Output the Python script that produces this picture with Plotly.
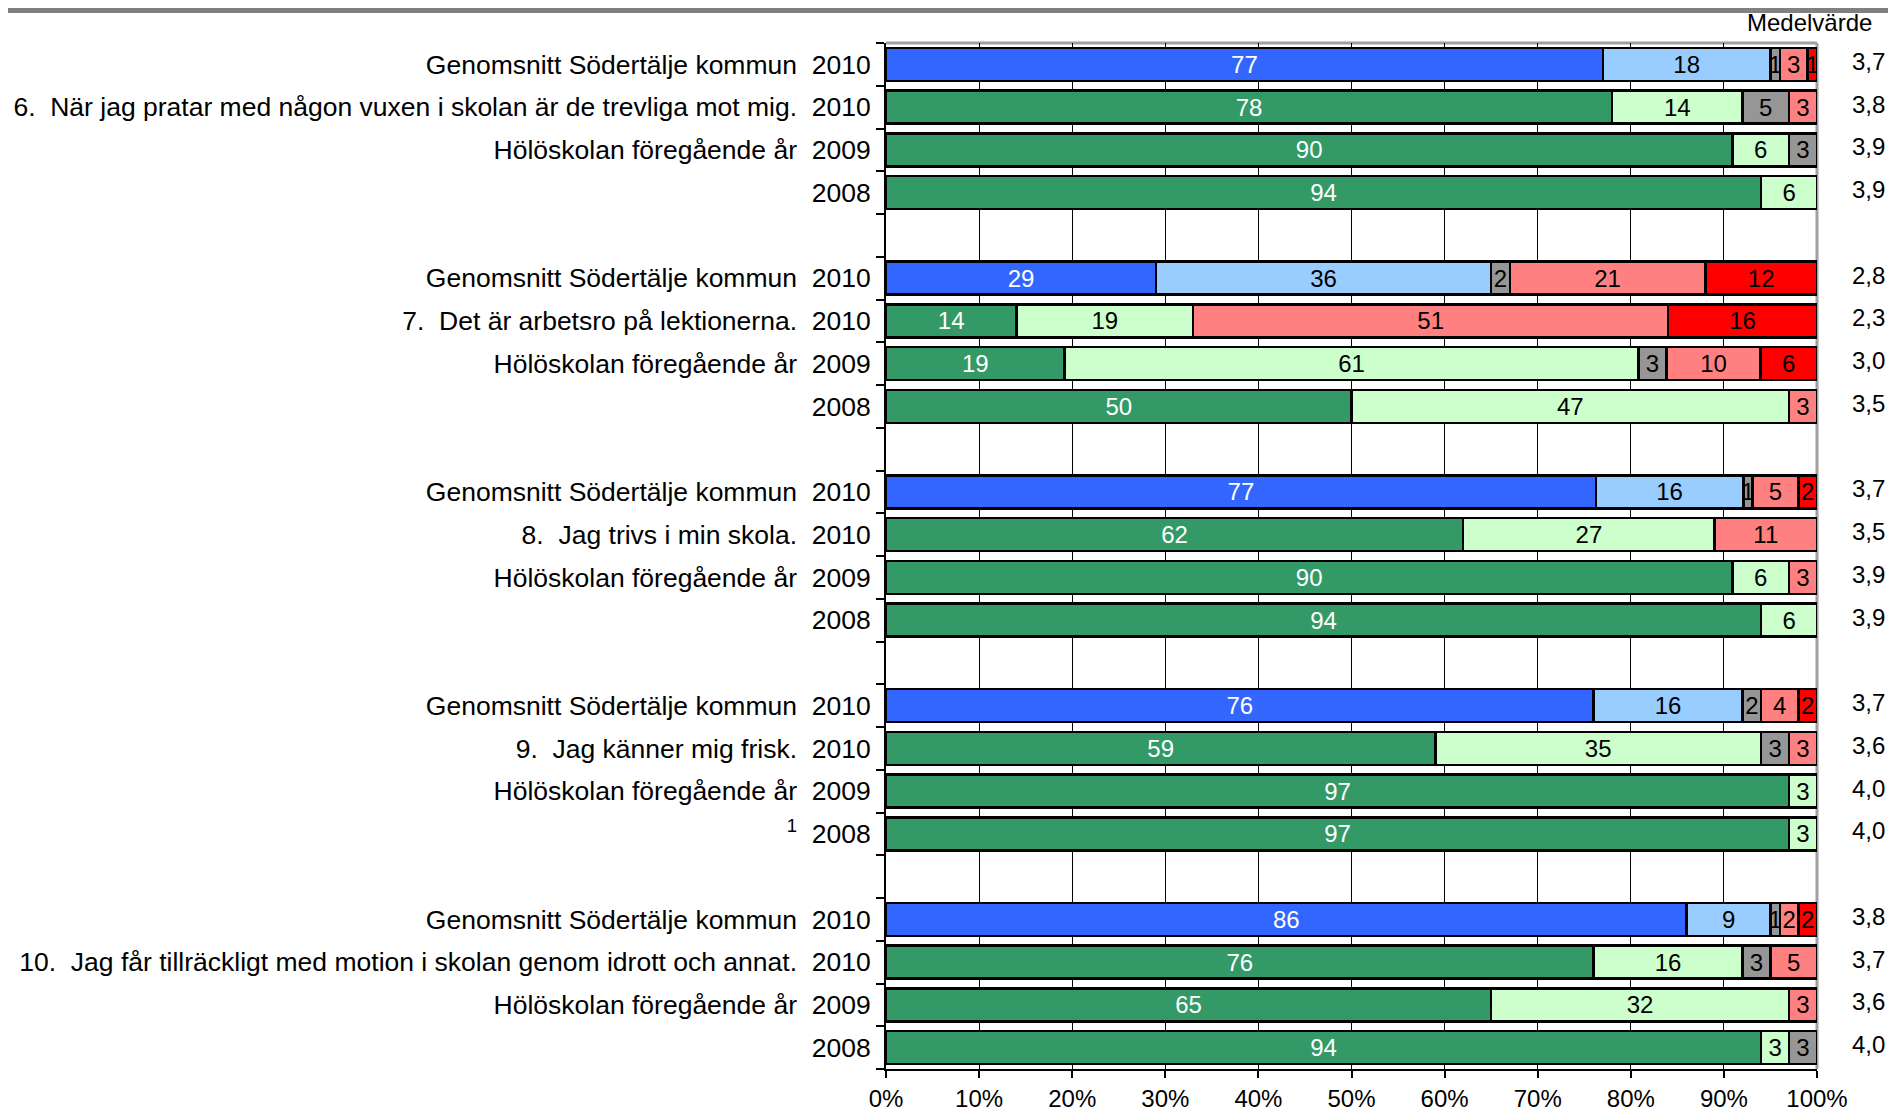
import plotly.graph_objects as go

# ---------------- data ----------------
questions = [
    "6.  När jag pratar med någon vuxen i skolan är de trevliga mot mig.",
    "7.  Det är arbetsro på lektionerna.",
    "8.  Jag trivs i min skola.",
    "9.  Jag känner mig frisk.",
    "10.  Jag får tillräckligt med motion i skolan genom idrott och annat.",
]
row_prefix = ["Genomsnitt Södertälje kommun", None, "Hölöskolan föregående år", ""]
years = ["2010", "2010", "2009", "2008"]
footnote_row = (3, 3)  # group, row with superscript 1

stammer_helt = [77, 78, 90, 94, 29, 14, 19, 50, 77, 62, 90, 94, 76, 59, 97, 97, 86, 76, 65, 94]
stammer_ganska = [18, 14, 6, 6, 36, 19, 61, 47, 16, 27, 6, 6, 16, 35, 3, 3, 9, 16, 32, 3]
vet_ej = [1, 5, 3, 0, 2, 0, 3, 0, 1, 0, 0, 0, 2, 3, 0, 0, 1, 3, 0, 3]
stammer_inte_sa = [3, 3, 0, 0, 21, 51, 10, 3, 5, 11, 3, 0, 4, 3, 0, 0, 2, 5, 3, 0]
stammer_inte_alls = [1, 0, 0, 0, 12, 16, 6, 0, 2, 0, 0, 0, 2, 0, 0, 0, 2, 0, 0, 0]
medelvarde = ["3,7", "3,8", "3,9", "3,9", "2,8", "2,3", "3,0", "3,5", "3,7", "3,5",
              "3,9", "3,9", "3,7", "3,6", "4,0", "4,0", "3,8", "3,7", "3,6", "4,0"]
x_ticks = [0, 10, 20, 30, 40, 50, 60, 70, 80, 90, 100]

# ---------------- layout helpers ----------------
FONT = "Liberation Sans, Arial, sans-serif"
FS_LABEL = 26.5
FS_BAR = 24
NBSP2 = "\u00a0\u00a0"

ypos, labels, is_kommun = [], [], []
for g, q in enumerate(questions):
    for r in range(4):
        ypos.append(g * 5 + r)
        pre = q if row_prefix[r] is None else row_prefix[r]
        if (g, r) == footnote_row:
            labels.append("<sup>1</sup>" + NBSP2 + years[r])
        else:
            labels.append((pre + NBSP2 if pre else "") + years[r])
        is_kommun.append(r == 0)
n_slots = ypos[-1] + 1

series = [
    (stammer_helt, ["#3366FF" if k else "#339966" for k in is_kommun], "white"),
    (stammer_ganska, ["#99CCFF" if k else "#CCFFCC" for k in is_kommun], "black"),
    (vet_ej, ["#969696"] * len(ypos), "black"),
    (stammer_inte_sa, ["#FF8080"] * len(ypos), "black"),
    (stammer_inte_alls, ["#FF0000"] * len(ypos), "black"),
]

fig = go.Figure()
for vals, colors, tcolor in series:
    fig.add_trace(go.Bar(
        x=[v if v else None for v in vals],
        y=ypos,
        orientation="h",
        marker=dict(color=colors, line=dict(color="black", width=2.5)),
        text=[str(v) if v else "" for v in vals],
        textposition="inside",
        insidetextanchor="middle",
        textangle=0,
        constraintext="none",
        textfont=dict(family=FONT, size=FS_BAR, color=tcolor),
        hoverinfo="skip",
        showlegend=False,
    ))

# page has an 8px body margin, so the figure is 16px smaller than the window
W, H = 1880, 1104
L, T = 878, 35
R = W - 1809
B = H - 1061
pw, ph = W - L - R, H - T - B

annotations = []
for y, m in zip(ypos, medelvarde):
    annotations.append(dict(x=(1879 - L) / pw, xref="paper", y=y, yref="y", text=m,
                            showarrow=False, xanchor="right", yanchor="middle", yshift=3,
                            font=dict(family=FONT, size=24, color="black")))
annotations.append(dict(x=(1866 - L) / pw, xref="paper", y=1 + (T - 14) / ph, yref="paper",
                        text="Medelvärde", showarrow=False, xanchor="right", yanchor="middle",
                        font=dict(family=FONT, size=24, color="black")))

shapes = [
    # grey band at top of the page
    dict(type="rect", xref="paper", yref="paper", x0=-L / pw, x1=(W - L) / pw,
         y0=1 + (T - 5) / ph, y1=1 + T / ph, fillcolor="#808080", line=dict(width=0), layer="above"),
    # grey plot frame (top and right)
    dict(type="line", xref="paper", yref="paper", x0=0, x1=1, y0=1, y1=1,
         line=dict(color="#A0A0A0", width=3), layer="below"),
    dict(type="line", xref="paper", yref="paper", x0=1, x1=1, y0=0, y1=1,
         line=dict(color="#A0A0A0", width=3), layer="below"),
]

fig.update_layout(
    width=W, height=H,
    margin=dict(l=L, r=R, t=T, b=B, autoexpand=False),
    template="none",
    barmode="stack",
    barnorm="percent",
    bargap=0.23,
    paper_bgcolor="white",
    plot_bgcolor="white",
    font=dict(family=FONT, size=FS_LABEL, color="black"),
    annotations=annotations,
    shapes=shapes,
    xaxis=dict(
        range=[0, 100], tickvals=x_ticks, ticktext=[f"{t}%" for t in x_ticks],
        showgrid=True, gridcolor="black", gridwidth=1, zeroline=False,
        showline=True, linecolor="black", linewidth=2,
        ticks="outside", ticklen=7, tickcolor="black", tickwidth=1.5,
        ticklabelstandoff=0, automargin=False,
        tickfont=dict(family=FONT, size=24, color="black"),
    ),
    yaxis=dict(
        range=[n_slots - 0.5, -0.5], tickmode="array", tickvals=ypos, ticktext=labels,
        showgrid=False, zeroline=False, showline=True, linecolor="black", linewidth=2,
        ticks="", ticklabelstandoff=8, automargin=False,
        tickfont=dict(family=FONT, size=FS_LABEL, color="black"),
        minor=dict(tickmode="array", tickvals=[i - 0.5 for i in range(n_slots + 1)],
                   ticks="outside", ticklen=8, tickcolor="black", tickwidth=1.5, showgrid=False),
    ),
)

fig.write_html("out.html")
